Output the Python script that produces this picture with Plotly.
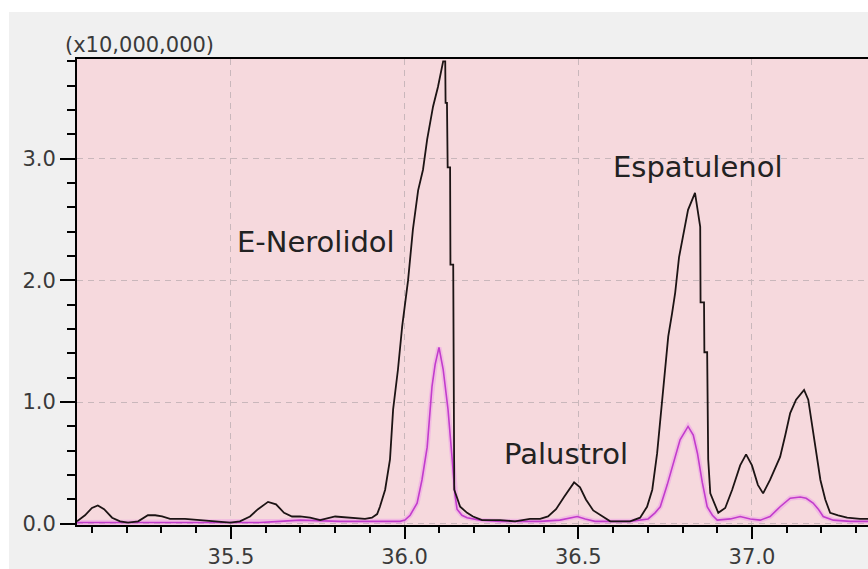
import plotly.graph_objects as go

# Retention time (min) and total ion current (x10,000,000) - black trace
tic_time = [35.057, 35.080, 35.100, 35.117, 35.135, 35.158, 35.181, 35.204, 35.233, 35.261,
            35.282, 35.302, 35.325, 35.368, 35.411, 35.454, 35.498, 35.526, 35.555, 35.578,
            35.607, 35.630, 35.653, 35.676, 35.699, 35.728, 35.757, 35.800, 35.843, 35.886,
            35.906, 35.921, 35.929, 35.944, 35.958, 35.967, 35.981, 35.993, 36.010, 36.024,
            36.039, 36.053, 36.065, 36.082, 36.096, 36.111, 36.117, 36.118, 36.122, 36.124,
            36.131, 36.132, 36.140, 36.143, 36.160, 36.180, 36.197, 36.223, 36.275, 36.318,
            36.361, 36.390, 36.413, 36.436, 36.459, 36.488, 36.505, 36.522, 36.543, 36.554,
            36.592, 36.649, 36.678, 36.698, 36.713, 36.727, 36.742, 36.750, 36.759, 36.770,
            36.779, 36.790, 36.802, 36.816, 36.836, 36.851, 36.852, 36.862, 36.863, 36.871,
            36.874, 36.880, 36.903, 36.923, 36.943, 36.966, 36.983, 37.000, 37.017, 37.032,
            37.052, 37.067, 37.081, 37.096, 37.110, 37.127, 37.150, 37.162, 37.176, 37.197,
            37.211, 37.225, 37.248, 37.274, 37.311, 37.334]
tic_int = [0.02, 0.07, 0.13, 0.15, 0.12, 0.05, 0.02, 0.01, 0.02, 0.07,
           0.07, 0.06, 0.04, 0.04, 0.03, 0.02, 0.01, 0.02, 0.06, 0.12,
           0.18, 0.16, 0.09, 0.06, 0.06, 0.05, 0.03, 0.06, 0.05, 0.04,
           0.05, 0.08, 0.14, 0.28, 0.53, 0.94, 1.27, 1.62, 2.00, 2.42,
           2.74, 2.91, 3.16, 3.43, 3.59, 3.80, 3.80, 3.46, 3.46, 2.93,
           2.93, 2.13, 2.13, 0.28, 0.14, 0.09, 0.06, 0.03, 0.03, 0.02,
           0.04, 0.04, 0.06, 0.12, 0.22, 0.34, 0.30, 0.20, 0.11, 0.09,
           0.02, 0.02, 0.05, 0.14, 0.28, 0.58, 1.02, 1.29, 1.54, 1.73,
           1.90, 2.19, 2.36, 2.58, 2.72, 2.44, 1.82, 1.82, 1.41, 1.41,
           0.53, 0.25, 0.09, 0.13, 0.28, 0.48, 0.57, 0.48, 0.32, 0.25,
           0.36, 0.46, 0.55, 0.73, 0.91, 1.02, 1.10, 1.02, 0.77, 0.36,
           0.20, 0.09, 0.07, 0.05, 0.04, 0.04]

# Extracted ion chromatogram (x10,000,000) - magenta trace
eic_time = [35.057, 35.411, 35.584, 35.641, 35.699, 35.814, 35.929, 35.987, 36.001, 36.016,
            36.036, 36.050, 36.065, 36.073, 36.079, 36.088, 36.099, 36.111, 36.125, 36.137,
            36.145, 36.151, 36.165, 36.180, 36.217, 36.275, 36.390, 36.447, 36.476, 36.497,
            36.520, 36.548, 36.649, 36.701, 36.721, 36.736, 36.756, 36.773, 36.793, 36.816,
            36.831, 36.843, 36.857, 36.871, 36.886, 36.900, 36.938, 36.966, 36.995, 37.024,
            37.052, 37.081, 37.110, 37.139, 37.156, 37.176, 37.191, 37.205, 37.234, 37.283,
            37.334]
eic_int = [0.01, 0.01, 0.01, 0.02, 0.03, 0.02, 0.02, 0.02, 0.03, 0.07,
           0.17, 0.36, 0.63, 0.94, 1.13, 1.31, 1.45, 1.27, 0.94, 0.53,
           0.24, 0.12, 0.07, 0.05, 0.03, 0.02, 0.02, 0.03, 0.05, 0.06,
           0.04, 0.02, 0.02, 0.04, 0.09, 0.14, 0.32, 0.50, 0.69, 0.80,
           0.73, 0.58, 0.34, 0.14, 0.07, 0.03, 0.04, 0.06, 0.04, 0.03,
           0.06, 0.14, 0.21, 0.22, 0.21, 0.17, 0.12, 0.06, 0.03, 0.02,
           0.02]

# Compound labels: name, retention time, height
peak_names = ["E-Nerolidol", "Espatulenol", "Palustrol"]
peak_label_x = [35.745, 36.844, 36.464]
peak_label_y = [2.32, 2.93, 0.575]

x_range = [35.057, 37.334]
y_range = [-0.01, 3.82]

tick_font = dict(family="DejaVu Sans", size=21, color="#3a3a3a")
label_font = dict(family="DejaVu Sans", size=29, color="#222222")
grid_color = "#c9b7bb"

fig = go.Figure()

# soft glow under the ion trace
fig.add_trace(go.Scatter(x=eic_time, y=eic_int, mode="lines",
                         line=dict(color="rgba(235,130,235,0.35)", width=5),
                         hoverinfo="skip", showlegend=False))
fig.add_trace(go.Scatter(x=eic_time, y=eic_int, mode="lines",
                         line=dict(color="#c23ccc", width=1.6),
                         showlegend=False))
fig.add_trace(go.Scatter(x=tic_time, y=tic_int, mode="lines",
                         line=dict(color="#1c1414", width=1.8),
                         showlegend=False))

for name, px, py in zip(peak_names, peak_label_x, peak_label_y):
    fig.add_annotation(x=px, y=py, xref="x", yref="y", text=name, showarrow=False,
                       xanchor="center", yanchor="middle", font=label_font)

fig.add_annotation(x=-0.0177, y=1.030, xref="paper", yref="paper", text="(x10,000,000)",
                   showarrow=False, xanchor="left", yanchor="middle", font=tick_font)

# white border strips around the grey panel
fig.add_shape(type="rect", xref="paper", yref="paper", x0=-0.2, x1=1.1, y0=1.1009, y1=1.3,
              fillcolor="white", line=dict(width=0), layer="below")
fig.add_shape(type="rect", xref="paper", yref="paper", x0=-0.2, x1=-0.0860, y0=-0.2, y1=1.3,
              fillcolor="white", line=dict(width=0), layer="below")

fig.update_layout(
    width=868, height=569, autosize=False,
    margin=dict(l=77, r=0, t=59, b=44),
    paper_bgcolor="#f0f0f0",
    plot_bgcolor="#f6d9dd",
    showlegend=False,
)

fig.update_xaxes(
    range=x_range, showline=True, linecolor="black", linewidth=2, mirror=True,
    ticks="outside", ticklen=12, tickwidth=2, tickcolor="black",
    dtick=0.5, tick0=35.0, tickformat=".1f", tickfont=tick_font,
    showgrid=True, gridcolor=grid_color, griddash="6px,5px", gridwidth=1,
    zeroline=False,
    minor=dict(dtick=0.1, tick0=35.0, ticks="outside", ticklen=6, tickwidth=2,
               tickcolor="black", showgrid=False),
)
fig.update_yaxes(
    range=y_range, showline=True, linecolor="black", linewidth=2, mirror=False,
    ticks="outside", ticklen=15, tickwidth=2, tickcolor="black",
    dtick=1.0, tick0=0.0, tickformat=".1f", tickfont=tick_font,
    showgrid=True, gridcolor=grid_color, griddash="6px,5px", gridwidth=1,
    zeroline=False,
    minor=dict(dtick=0.2, tick0=0.0, ticks="outside", ticklen=8, tickwidth=2,
               tickcolor="black", showgrid=False),
)

fig.write_html("out.html")
